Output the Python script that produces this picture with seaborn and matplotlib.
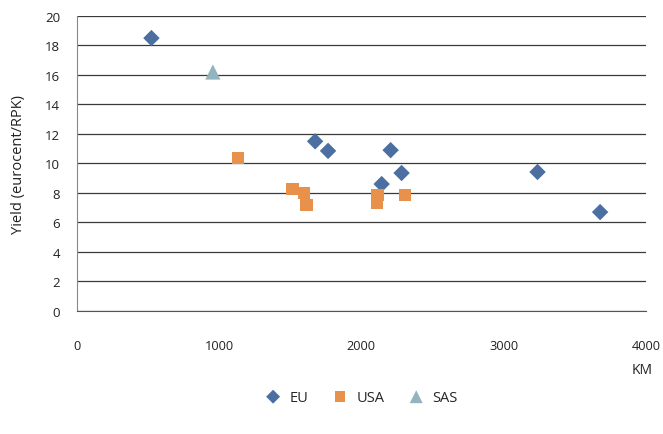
import matplotlib
matplotlib.use("Agg")
import matplotlib.pyplot as plt
import seaborn as sns
import pandas as pd

eu_km = [524, 1675, 1766, 2206, 2143, 2283, 3239, 3679]
eu_yield = [18.5, 11.5, 10.85, 10.9, 8.6, 9.35, 9.42, 6.7]
usa_km = [1131, 1515, 1596, 1615, 2115, 2110, 2306]
usa_yield = [10.35, 8.27, 8.0, 7.2, 7.86, 7.3, 7.86]
sas_km = [956]
sas_yield = [16.2]

df = pd.DataFrame({
    "km": eu_km + usa_km + sas_km,
    "yield": eu_yield + usa_yield + sas_yield,
    "region": ["EU"] * len(eu_km) + ["USA"] * len(usa_km) + ["SAS"] * len(sas_km),
})

sns.set_style("white")
plt.rcParams['font.family'] = ['Open Sans', 'DejaVu Sans']

fig = plt.figure(figsize=(6.63, 4.35), dpi=100)
ax = fig.add_axes([0.116, 0.283, 0.858, 0.678])

palette = {"EU": "#4A6FA0", "USA": "#E8914A", "SAS": "#93B4BE"}
markers = {"EU": "D", "USA": "s", "SAS": "^"}
sizes = {"EU": 70, "USA": 80, "SAS": 120}
for reg in ["EU", "USA", "SAS"]:
    sub = df[df["region"] == reg]
    sns.scatterplot(data=sub, x="km", y="yield", color=palette[reg],
                    marker=markers[reg], s=sizes[reg], edgecolor="none",
                    ax=ax, label=reg, zorder=3)

ax.set_xlim(0, 4000)
ax.set_ylim(0, 20)
ax.set_xticks(range(0, 4001, 1000))
ax.set_yticks(range(0, 21, 2))
ax.yaxis.grid(True, color="#3a3a3a", linewidth=0.9)
ax.xaxis.grid(False)
for s in ["top", "right"]:
    ax.spines[s].set_visible(False)
ax.spines["left"].set_color("#888888")
ax.spines["bottom"].set_color("#555555")
ax.tick_params(axis="x", direction="inout", length=8, pad=16, colors="#222222", labelsize=9.2, color="#555555")
ax.tick_params(axis="y", direction="out", length=6, pad=6, colors="#222222", labelsize=9.5, color="#888888")
ax.set_xlabel("")
ax.set_ylabel("Yield (eurocent/RPK)", fontsize=10.5, color="#222222", labelpad=14)
fig.text(0.985, 0.148, "KM", ha="right", va="center", fontsize=10, color="#222222")

handles, labels = ax.get_legend_handles_labels()
ax.legend(handles, labels, loc="center", bbox_to_anchor=(0.54, 0.085),
          bbox_transform=fig.transFigure, ncol=3, frameon=False,
          handletextpad=0.1, columnspacing=1.2, fontsize=10.5, markerscale=0.85)

fig.savefig("out.png", dpi=100)
